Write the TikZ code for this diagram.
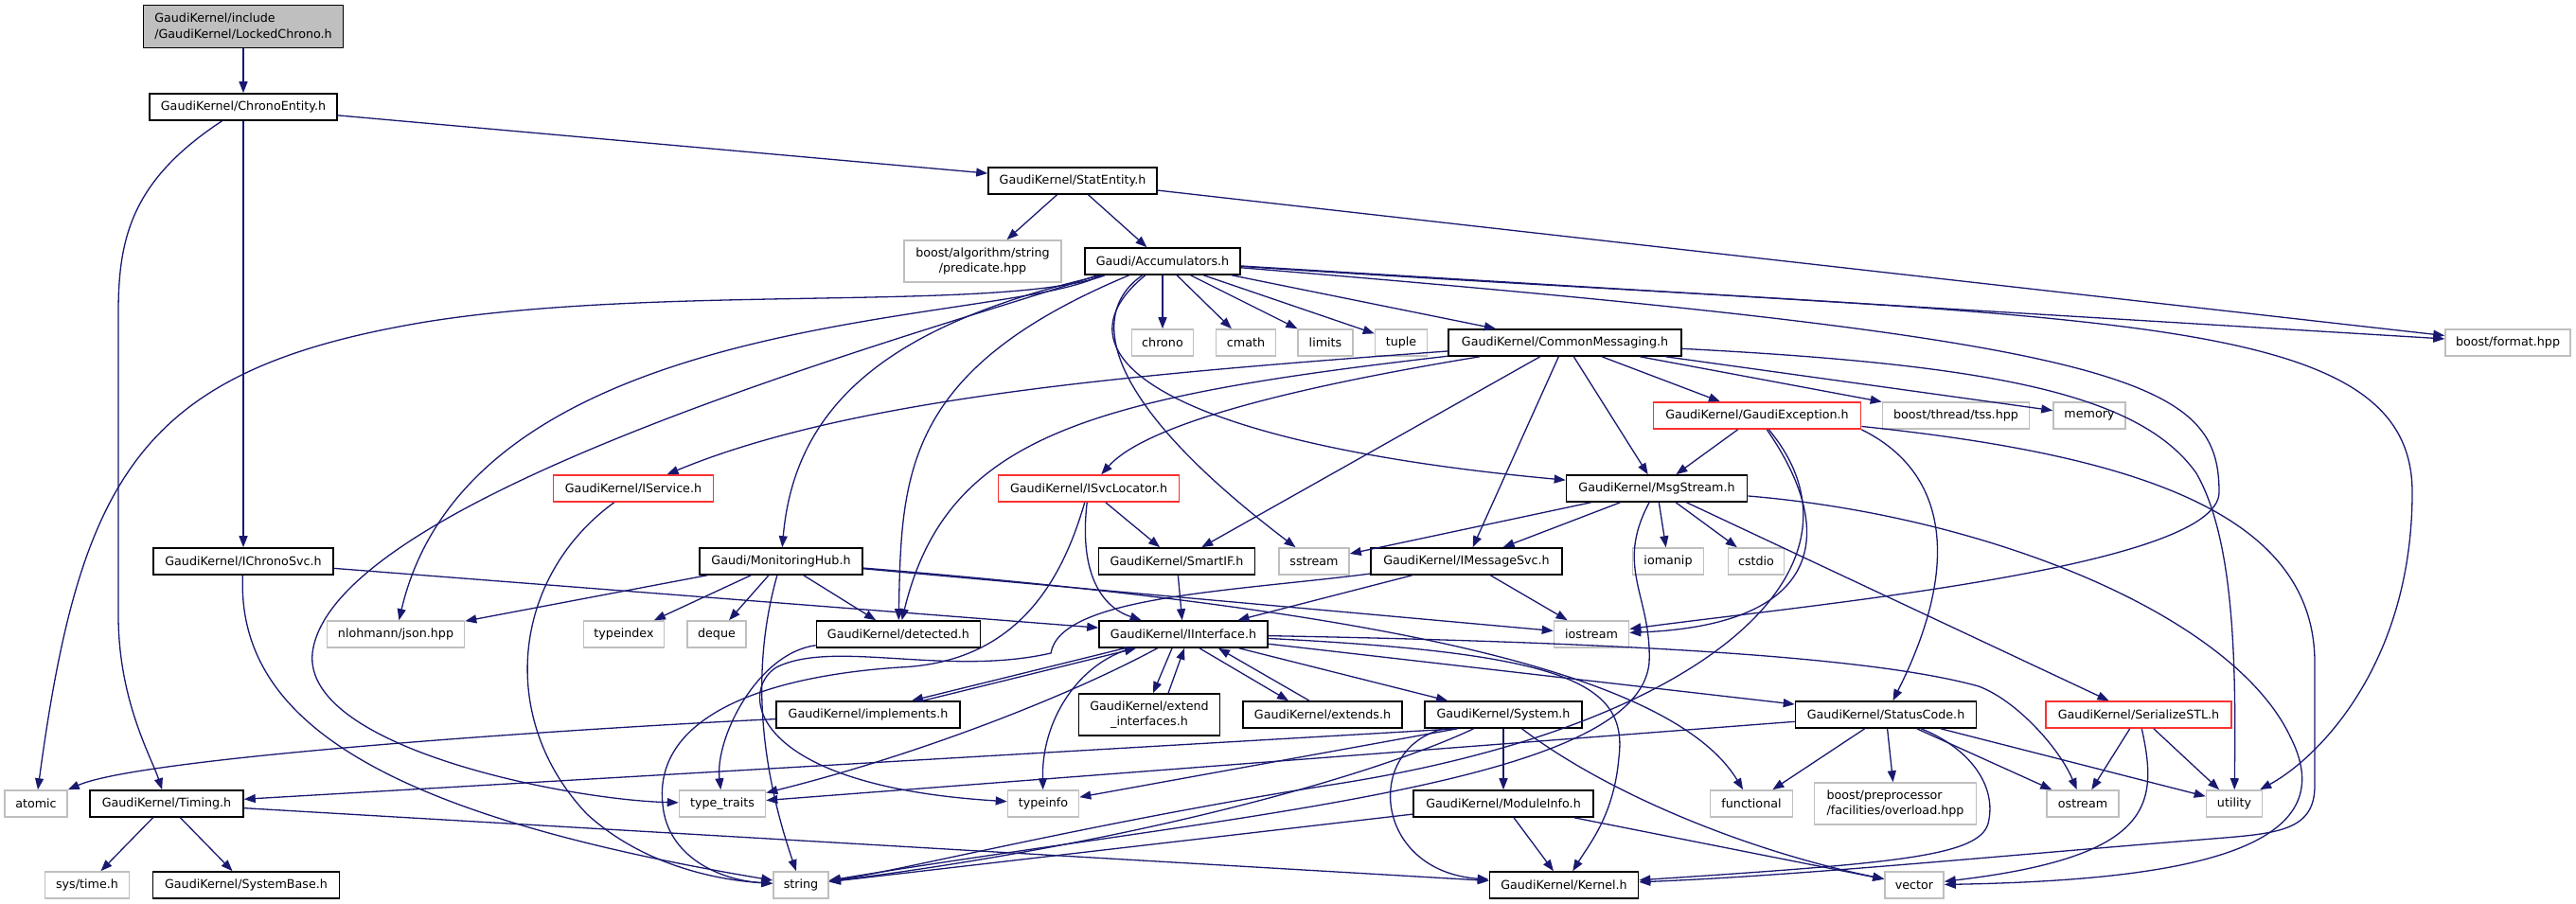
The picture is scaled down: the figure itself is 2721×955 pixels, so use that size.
\documentclass[tikz,border=0pt]{standalone}
\usepackage{fontspec}
\setmainfont{DejaVu Sans}
\usetikzlibrary{arrows.meta}

\definecolor{edgeblue}{RGB}{25,25,112}
\definecolor{extgray}{RGB}{191,191,191}
\definecolor{cutred}{RGB}{250,50,50}
\definecolor{rootgray}{RGB}{191,191,191}

\begin{document}
\begin{tikzpicture}[x=1pt, y=-1pt,
    hdr/.style={rectangle, draw=black, line width=1.6pt, fill=white, inner sep=0pt,
        minimum height=28pt, font=\fontsize{12.7}{16.5}\selectfont},
    ext/.style={hdr, draw=extgray},
    cut/.style={hdr, draw=cutred},
    dep/.style={color=edgeblue, line width=1.3pt, -{Triangle[length=12pt,width=9pt]}}]

    \useasboundingbox (0,0) rectangle (2721,955);

    % headers
    \node[hdr, fill=rootgray, minimum width=211pt, minimum height=45pt, align=left] (lockedchrono) at (257,28) {GaudiKernel/include\\/GaudiKernel/LockedChrono.h};
    \node[hdr, minimum width=198pt] (chronoentity) at (257,113) {GaudiKernel/ChronoEntity.h};
    \node[hdr, minimum width=178pt] (statentity) at (1133,191) {GaudiKernel/StatEntity.h};
    \node[ext, minimum width=166pt, minimum height=44pt, align=center] (predicate) at (1038,276) {boost/algorithm/string\\/predicate.hpp};
    \node[hdr, minimum width=164pt] (accumulators) at (1228,276) {Gaudi/Accumulators.h};
    \node[ext, minimum width=65pt] (chrono) at (1228,362) {chrono};
    \node[ext, minimum width=63pt] (cmath) at (1316,362) {cmath};
    \node[ext, minimum width=58pt] (limits) at (1400,362) {limits};
    \node[ext, minimum width=55pt] (tuple) at (1480,362) {tuple};
    \node[hdr, minimum width=246pt] (commonmsg) at (1653,362) {GaudiKernel/CommonMessaging.h};
    \node[ext, minimum width=132pt] (boostformat) at (2649,362) {boost/format.hpp};
    \node[cut, minimum width=219pt] (gaudiexc) at (1856,439) {GaudiKernel/GaudiException.h};
    \node[ext, minimum width=155pt] (tss) at (2066,439) {boost/thread/tss.hpp};
    \node[ext, minimum width=76pt] (memory) at (2207,439) {memory};
    \node[cut, minimum width=169pt] (iservice) at (669,516) {GaudiKernel/IService.h};
    \node[cut, minimum width=191pt] (isvclocator) at (1150,516) {GaudiKernel/ISvcLocator.h};
    \node[hdr, minimum width=191pt] (msgstream) at (1750,516) {GaudiKernel/MsgStream.h};
    \node[hdr, minimum width=190pt] (ichronosvc) at (257,593) {GaudiKernel/IChronoSvc.h};
    \node[hdr, minimum width=172pt] (monhub) at (825,593) {Gaudi/MonitoringHub.h};
    \node[hdr, minimum width=165pt] (smartif) at (1243,593) {GaudiKernel/SmartIF.h};
    \node[ext, minimum width=74pt] (sstream) at (1388,593) {sstream};
    \node[hdr, minimum width=202pt] (imessagesvc) at (1549,593) {GaudiKernel/IMessageSvc.h};
    \node[ext, minimum width=75pt] (iomanip) at (1762,593) {iomanip};
    \node[ext, minimum width=59pt] (cstdio) at (1855,593) {cstdio};
    \node[ext, minimum width=145pt] (json) at (418,670) {nlohmann/json.hpp};
    \node[ext, minimum width=85pt] (typeindex) at (659,670) {typeindex};
    \node[ext, minimum width=62pt] (deque) at (757,670) {deque};
    \node[hdr, minimum width=173pt] (detected) at (949,670) {GaudiKernel/detected.h};
    \node[hdr, minimum width=178pt] (iinterface) at (1250,670) {GaudiKernel/IInterface.h};
    \node[ext, minimum width=79pt] (iostream) at (1681,670) {iostream};
    \node[hdr, minimum width=194pt] (implements) at (917,755) {GaudiKernel/implements.h};
    \node[hdr, minimum width=149pt, minimum height=44pt, align=center] (extendif) at (1214,755) {GaudiKernel/extend\\\_interfaces.h};
    \node[hdr, minimum width=168pt] (extends) at (1397,755) {GaudiKernel/extends.h};
    \node[hdr, minimum width=166pt] (system) at (1588,755) {GaudiKernel/System.h};
    \node[hdr, minimum width=191pt] (statuscode) at (1992,755) {GaudiKernel/StatusCode.h};
    \node[cut, minimum width=196pt] (serializestl) at (2259,755) {GaudiKernel/SerializeSTL.h};
    \node[ext, minimum width=66pt] (atomic) at (38,849) {atomic};
    \node[hdr, minimum width=162pt] (timing) at (176,849) {GaudiKernel/Timing.h};
    \node[ext, minimum width=91pt] (typetraits) at (763,849) {type\_traits};
    \node[ext, minimum width=75pt] (typeinfo) at (1102,849) {typeinfo};
    \node[hdr, minimum width=190pt] (moduleinfo) at (1588,849) {GaudiKernel/ModuleInfo.h};
    \node[ext, minimum width=87pt] (functional) at (1850,849) {functional};
    \node[ext, minimum width=171pt, minimum height=44pt, align=left] (overload) at (2002,849) {boost/preprocessor\\/facilities/overload.hpp};
    \node[ext, minimum width=76pt] (ostream) at (2200,849) {ostream};
    \node[ext, minimum width=59pt] (utility) at (2360,849) {utility};
    \node[ext, minimum width=89pt] (systime) at (92,935) {sys/time.h};
    \node[hdr, minimum width=197pt] (systembase) at (260,935) {GaudiKernel/SystemBase.h};
    \node[ext, minimum width=58pt] (string) at (846,935) {string};
    \node[hdr, minimum width=157pt] (kernel) at (1652,935) {GaudiKernel/Kernel.h};
    \node[ext, minimum width=62pt] (vector) at (2022,935) {vector};

    % straight includes
    \path[dep] (lockedchrono) edge (chronoentity)
        (chronoentity) edge (statentity)
        (chronoentity) edge (ichronosvc)
        (statentity) edge (predicate)
        (statentity) edge (accumulators)
        (statentity) edge (boostformat)
        (accumulators) edge (chrono)
        (accumulators) edge (cmath)
        (accumulators) edge (limits)
        (accumulators) edge (tuple)
        (accumulators) edge (commonmsg)
        (accumulators) edge (boostformat)
        (commonmsg) edge (smartif)
        (commonmsg) edge (imessagesvc)
        (commonmsg) edge (msgstream)
        (commonmsg) edge (gaudiexc)
        (commonmsg) edge (tss)
        (commonmsg) edge (memory)
        (gaudiexc) edge (msgstream)
        (msgstream) edge (sstream)
        (msgstream) edge (imessagesvc)
        (msgstream) edge (iomanip)
        (msgstream) edge (cstdio)
        (msgstream) edge (serializestl)
        (isvclocator) edge (smartif)
        (smartif) edge (iinterface)
        (imessagesvc) edge (iinterface)
        (imessagesvc) edge (iostream)
        (ichronosvc) edge (iinterface)
        (monhub) edge (json)
        (monhub) edge (typeindex)
        (monhub) edge (deque)
        (monhub) edge (detected)
        (monhub) edge (iostream)
        (iinterface) edge (system)
        (iinterface) edge (statuscode)
        (system) edge (moduleinfo)
        (statuscode) edge (typetraits)
        (statuscode) edge (functional)
        (statuscode) edge (overload)
        (statuscode) edge (ostream)
        (statuscode) edge (utility)
        (serializestl) edge (ostream)
        (serializestl) edge (utility)
        (moduleinfo) edge (kernel)
        (moduleinfo) edge (vector)
        (moduleinfo) edge (string)
        (timing) edge (systime)
        (timing) edge (systembase)
        (timing) edge (kernel);
    \path[dep] ([xshift=35pt]system.south west) edge (timing)
        ([xshift=35pt]system.south west) edge (typeinfo);

    % IInterface and its mixins include each other
    \draw[dep] ([xshift=-62pt]iinterface.south) -- ([xshift=46pt]implements.north);
    \draw[dep] ([xshift=58pt]implements.north) -- ([xshift=-50pt]iinterface.south);
    \draw[dep] ([xshift=-12pt]iinterface.south) -- ([xshift=4pt]extendif.north);
    \draw[dep] ([xshift=20pt]extendif.north) -- ([xshift=1pt]iinterface.south);
    \draw[dep] ([xshift=17pt]iinterface.south) -- ([xshift=-36pt]extends.north);
    \draw[dep] ([xshift=-14pt]extends.north) -- ([xshift=37pt]iinterface.south);

    % routed includes
    \draw[dep] (chronoentity) .. controls (140,190) and (125,250) .. (125,330) -- (125,650) .. controls (125,740) and (160,800) .. (timing);
    \draw[dep] ([xshift=22pt]accumulators.south west) .. controls (1060,330) and (700,300) .. (450,340) .. controls (150,390) and (85,500) .. (atomic);
    \draw[dep] ([xshift=18pt]accumulators.south west) .. controls (1060,345) and (500,320) .. (json);
    \draw[dep] ([xshift=14pt]accumulators.south west) .. controls (1000,345) and (350,520) .. (330,690) .. controls (320,790) and (600,845) .. (typetraits);
    \draw[dep] (accumulators) .. controls (950,340) and (840,420) .. (monhub);
    \draw[dep] (accumulators) .. controls (955,390) and (952,500) .. (detected);
    \draw[dep] (accumulators) .. controls (1150,330) and (1160,420) .. (sstream);
    \draw[dep] (accumulators) .. controls (1100,380) and (1250,470) .. (msgstream);
    \draw[dep] (accumulators) .. controls (2250,360) and (2344,400) .. (2344,520) .. controls (2344,600) and (1900,640) .. (iostream);
    \draw[dep] (accumulators) .. controls (2200,340) and (2548,320) .. (2548,520) .. controls (2548,700) and (2450,800) .. (utility);
    \draw[dep] (commonmsg) .. controls (1200,395) and (900,420) .. (iservice);
    \draw[dep] (commonmsg) .. controls (1150,420) and (1000,460) .. (detected);
    \draw[dep] (commonmsg) .. controls (1300,420) and (1200,460) .. (isvclocator);
    \draw[dep] (commonmsg) .. controls (2100,385) and (2260,415) .. (2320,500) .. controls (2360,570) and (2362,700) .. (utility);
    \draw[dep] (gaudiexc) .. controls (1940,560) and (1930,660) .. (iostream);
    \draw[dep] (gaudiexc) .. controls (1990,600) and (1800,770) .. (1400,830) .. controls (1150,870) and (950,920) .. (string);
    \draw[dep] (gaudiexc.south east) .. controls (2060,500) and (2070,600) .. (statuscode);
    \draw[dep] (gaudiexc) .. controls (2250,480) and (2445,540) .. (2445,700) -- (2445,830) .. controls (2445,875) and (2410,880) .. (2350,885) .. controls (2100,905) and (1900,925) .. (kernel);
    \draw[dep] (msgstream) .. controls (2100,545) and (2360,650) .. (2420,780) .. controls (2480,900) and (2300,930) .. (vector);
    \draw[dep] (msgstream) .. controls (1705,600) and (1745,630) .. (1742,700) .. controls (1730,830) and (1300,860) .. (string);
    \draw[dep] (imessagesvc) .. controls (1300,625) and (1120,630) .. (1110,690) .. controls (1000,715) and (880,675) .. (820,705) .. controls (780,730) and (790,830) .. (typeinfo);
    \draw[dep] (isvclocator) .. controls (1140,600) and (1160,640) .. (iinterface);
    \draw[dep] (isvclocator) .. controls (1120,620) and (1070,700) .. (950,705) .. controls (800,715) and (690,760) .. (700,850) .. controls (705,905) and (760,930) .. (string);
    \draw[dep] (iservice) .. controls (540,610) and (525,760) .. (620,860) .. controls (680,915) and (760,930) .. (string);
    \draw[dep] (ichronosvc) .. controls (250,760) and (400,860) .. (string);
    \draw[dep] (monhub) .. controls (795,700) and (800,800) .. (string);
    \draw[dep] (monhub) .. controls (1400,640) and (1760,700) .. (functional);
    \draw[dep] (detected) .. controls (800,690) and (755,780) .. (typetraits);
    \draw[dep] (iinterface) .. controls (1120,740) and (960,800) .. (typetraits);
    \draw[dep] (iinterface) .. controls (1140,700) and (1100,760) .. (typeinfo);
    \draw[dep] (iinterface) .. controls (1800,680) and (2000,700) .. (2090,725) .. controls (2130,740) and (2175,790) .. (ostream);
    \draw[dep] (iinterface) .. controls (1650,690) and (1720,720) .. (1710,800) .. controls (1705,860) and (1680,890) .. (kernel);
    \draw[dep] (implements) .. controls (600,770) and (150,800) .. (atomic);
    \draw[dep] (system) .. controls (1450,820) and (1200,890) .. (string);
    \draw[dep] (system) .. controls (1440,790) and (1450,920) .. (kernel);
    \draw[dep] (system) .. controls (1700,840) and (1850,900) .. (vector);
    \draw[dep] (statuscode) .. controls (2080,790) and (2110,830) .. (2100,870) .. controls (2090,905) and (2000,912) .. (kernel);
    \draw[dep] (serializestl) .. controls (2280,850) and (2275,905) .. (vector);
\end{tikzpicture}
\end{document}
